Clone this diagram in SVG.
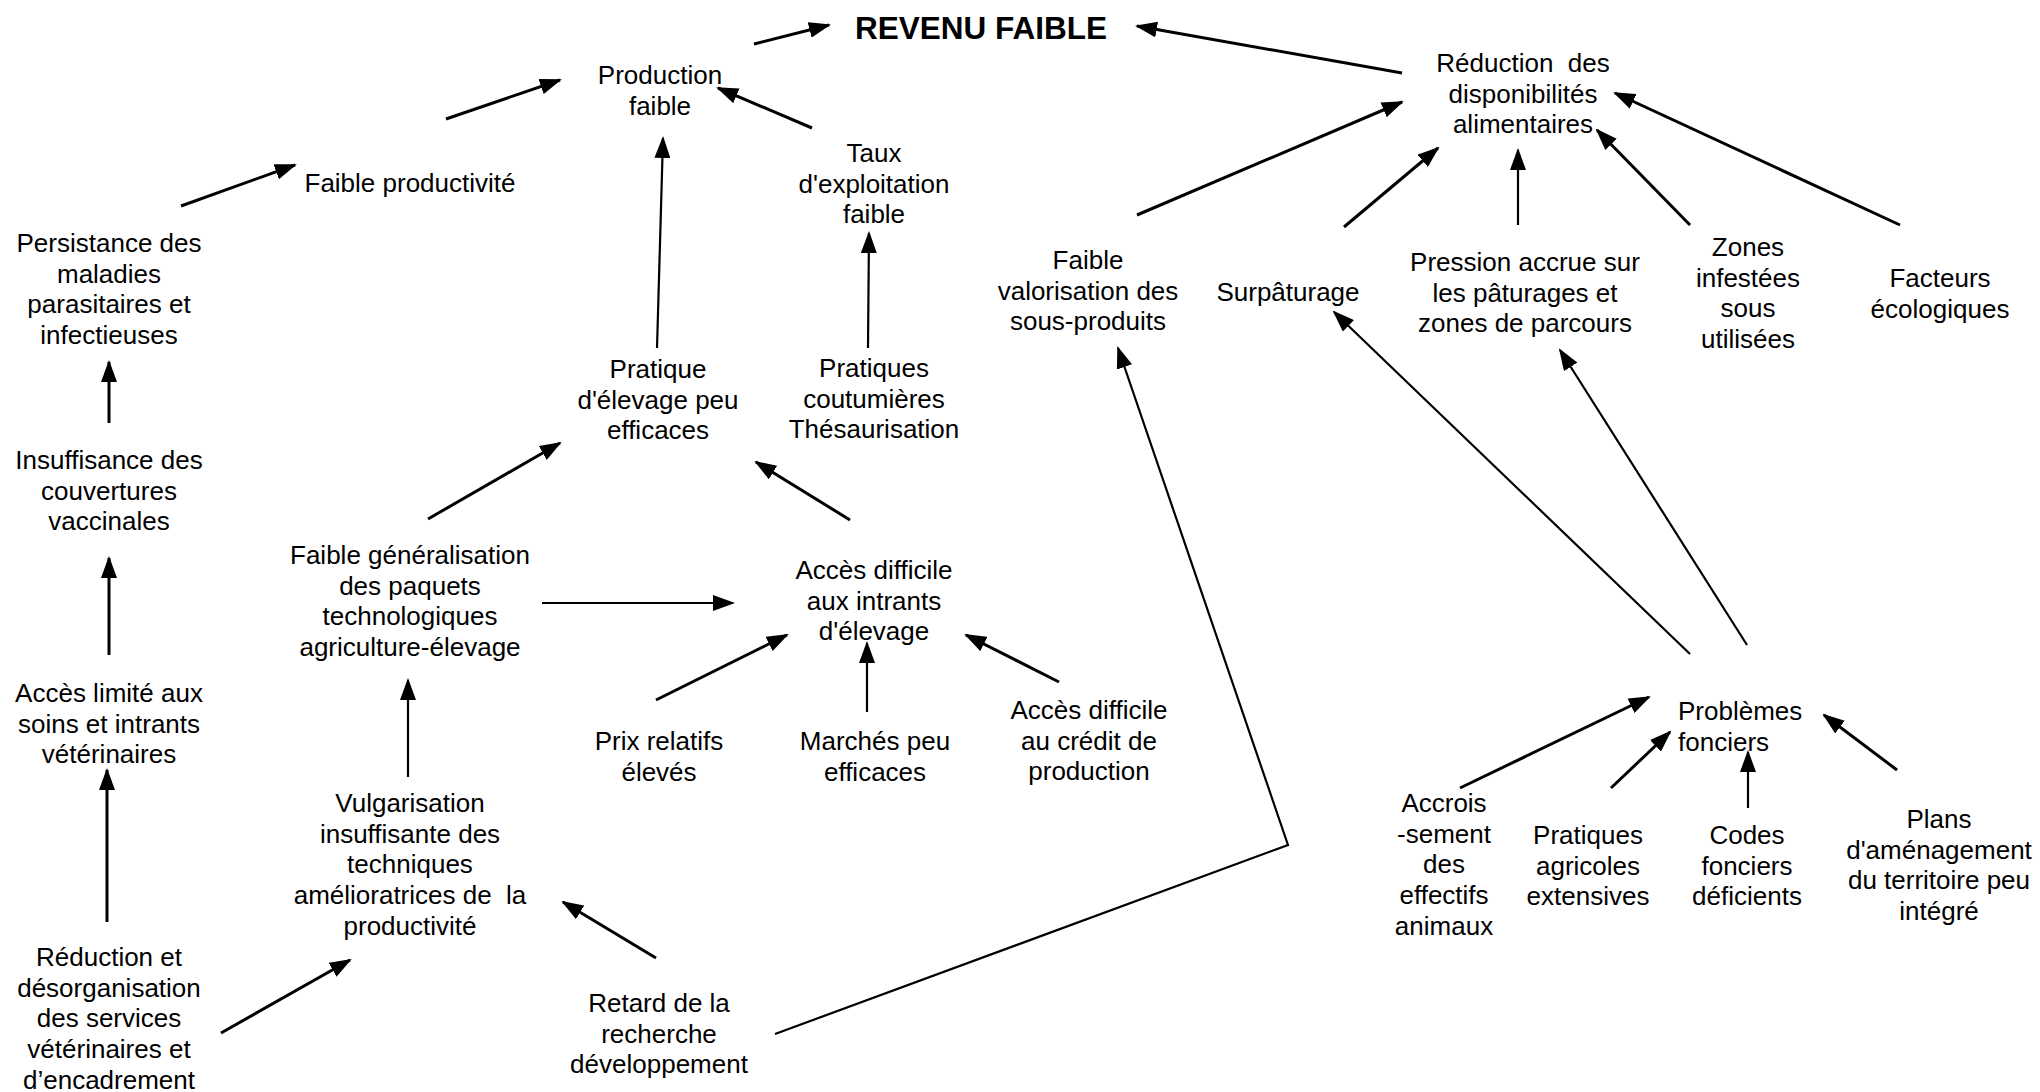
<svg xmlns="http://www.w3.org/2000/svg" width="2040" height="1092" viewBox="0 0 2040 1092">
<style>
.t{font-family:"Liberation Sans",Arial,sans-serif;font-size:26px;text-anchor:middle;fill:#000}
.b{font-weight:bold;font-size:31.5px}
.l{text-anchor:start}
.c line,.c polyline{stroke:#000;stroke-width:3;fill:none;marker-end:url(#ah)}
.c .th{stroke-width:2.2}
</style>
<defs>
<marker id="ah" markerWidth="22" markerHeight="16" refX="20" refY="8" orient="auto" markerUnits="userSpaceOnUse"><path d="M0,0 L22,8 L0,16 Z" fill="#000"/></marker>
</defs>
<rect width="2040" height="1092" fill="#fff"/>
<g class="c" id="connectors">
<line x1="754" y1="44" x2="829" y2="25"/>
<line x1="1402" y1="73" x2="1137" y2="26"/>
<line x1="446" y1="119" x2="560" y2="80"/>
<line x1="181" y1="206" x2="295" y2="165"/>
<line x1="109" y1="423" x2="109" y2="362"/>
<line x1="109" y1="655" x2="109" y2="558"/>
<line x1="107" y1="922" x2="107" y2="770"/>
<line x1="812" y1="128" x2="718" y2="88"/>
<line class="th" x1="657" y1="348" x2="663" y2="138"/>
<line class="th" x1="868" y1="348" x2="869" y2="233"/>
<line x1="428" y1="519" x2="560" y2="443"/>
<line x1="850" y1="520" x2="756" y2="462"/>
<line class="th" x1="542" y1="603" x2="733" y2="603"/>
<line x1="656" y1="700" x2="787" y2="635"/>
<line class="th" x1="867" y1="712" x2="867" y2="643"/>
<line x1="1059" y1="682" x2="966" y2="635"/>
<line class="th" x1="408" y1="777" x2="408" y2="680"/>
<line x1="221" y1="1033" x2="350" y2="960"/>
<line x1="656" y1="958" x2="563" y2="902"/>
<polyline class="th" points="775,1034 1288,845 1118,348"/>
<line x1="1137" y1="215" x2="1402" y2="102"/>
<line x1="1344" y1="227" x2="1438" y2="148"/>
<line class="th" x1="1518" y1="225" x2="1518" y2="150"/>
<line x1="1690" y1="225" x2="1597" y2="130"/>
<line x1="1900" y1="225" x2="1615" y2="93"/>
<line class="th" x1="1690" y1="654" x2="1334" y2="312"/>
<line class="th" x1="1747" y1="645" x2="1560" y2="350"/>
<line x1="1460" y1="788" x2="1649" y2="697"/>
<line x1="1611" y1="788" x2="1670" y2="732"/>
<line class="th" x1="1748" y1="808" x2="1748" y2="752"/>
<line x1="1897" y1="770" x2="1824" y2="715"/>
</g>
<g id="n-revenu"><text class="t b" x="981" y="39">REVENU FAIBLE</text></g>
<g id="n-production"><text class="t" x="660" y="84"><tspan x="660">Production</tspan><tspan x="660" dy="30.7">faible</tspan></text></g>
<g id="n-productivite"><text class="t" x="410" y="192">Faible productivité</text></g>
<g id="n-persistance"><text class="t" x="109" y="252"><tspan x="109">Persistance des</tspan><tspan x="109" dy="30.7">maladies</tspan><tspan x="109" dy="30.7">parasitaires et</tspan><tspan x="109" dy="30.7">infectieuses</tspan></text></g>
<g id="n-insuffisance"><text class="t" x="109" y="469"><tspan x="109">Insuffisance des</tspan><tspan x="109" dy="30.7">couvertures</tspan><tspan x="109" dy="30.7">vaccinales</tspan></text></g>
<g id="n-acces-limite"><text class="t" x="109" y="702"><tspan x="109">Accès limité aux</tspan><tspan x="109" dy="30.7">soins et intrants</tspan><tspan x="109" dy="30.7">vétérinaires</tspan></text></g>
<g id="n-reduction-services"><text class="t" x="109" y="966"><tspan x="109">Réduction et</tspan><tspan x="109" dy="30.7">désorganisation</tspan><tspan x="109" dy="30.7">des services</tspan><tspan x="109" dy="30.7">vétérinaires et</tspan><tspan x="109" dy="30.7">d’encadrement</tspan></text></g>
<g id="n-taux"><text class="t" x="874" y="162"><tspan x="874">Taux</tspan><tspan x="874" dy="30.7">d'exploitation</tspan><tspan x="874" dy="30.7">faible</tspan></text></g>
<g id="n-pratique-elevage"><text class="t" x="658" y="378"><tspan x="658">Pratique</tspan><tspan x="658" dy="30.7">d'élevage peu</tspan><tspan x="658" dy="30.7">efficaces</tspan></text></g>
<g id="n-coutumieres"><text class="t" x="874" y="377"><tspan x="874">Pratiques</tspan><tspan x="874" dy="30.7">coutumières</tspan><tspan x="874" dy="30.7">Thésaurisation</tspan></text></g>
<g id="n-generalisation"><text class="t" x="410" y="564"><tspan x="410">Faible généralisation</tspan><tspan x="410" dy="30.7">des paquets</tspan><tspan x="410" dy="30.7">technologiques</tspan><tspan x="410" dy="30.7">agriculture-élevage</tspan></text></g>
<g id="n-acces-intrants"><text class="t" x="874" y="579"><tspan x="874">Accès difficile</tspan><tspan x="874" dy="30.7">aux intrants</tspan><tspan x="874" dy="30.7">d'élevage</tspan></text></g>
<g id="n-prix"><text class="t" x="659" y="750"><tspan x="659">Prix relatifs</tspan><tspan x="659" dy="30.7">élevés</tspan></text></g>
<g id="n-marches"><text class="t" x="875" y="750"><tspan x="875">Marchés peu</tspan><tspan x="875" dy="30.7">efficaces</tspan></text></g>
<g id="n-credit"><text class="t" x="1089" y="719"><tspan x="1089">Accès difficile</tspan><tspan x="1089" dy="30.7">au crédit de</tspan><tspan x="1089" dy="30.7">production</tspan></text></g>
<g id="n-vulgarisation"><text class="t" x="410" y="812" xml:space="preserve"><tspan x="410">Vulgarisation</tspan><tspan x="410" dy="30.7">insuffisante des</tspan><tspan x="410" dy="30.7">techniques</tspan><tspan x="410" dy="30.7">amélioratrices de  la</tspan><tspan x="410" dy="30.7">productivité</tspan></text></g>
<g id="n-retard"><text class="t" x="659" y="1012"><tspan x="659">Retard de la</tspan><tspan x="659" dy="30.7">recherche</tspan><tspan x="659" dy="30.7">développement</tspan></text></g>
<g id="n-reduction-dispo"><text class="t" x="1523" y="72" xml:space="preserve"><tspan x="1523">Réduction  des</tspan><tspan x="1523" dy="30.7">disponibilités</tspan><tspan x="1523" dy="30.7">alimentaires</tspan></text></g>
<g id="n-valorisation"><text class="t" x="1088" y="269"><tspan x="1088">Faible</tspan><tspan x="1088" dy="30.7">valorisation des</tspan><tspan x="1088" dy="30.7">sous-produits</tspan></text></g>
<g id="n-surpaturage"><text class="t" x="1288" y="301">Surpâturage</text></g>
<g id="n-pression"><text class="t" x="1525" y="271"><tspan x="1525">Pression accrue sur</tspan><tspan x="1525" dy="30.7">les pâturages et</tspan><tspan x="1525" dy="30.7">zones de parcours</tspan></text></g>
<g id="n-zones"><text class="t" x="1748" y="256"><tspan x="1748">Zones</tspan><tspan x="1748" dy="30.7">infestées</tspan><tspan x="1748" dy="30.7">sous</tspan><tspan x="1748" dy="30.7">utilisées</tspan></text></g>
<g id="n-facteurs"><text class="t" x="1940" y="287"><tspan x="1940">Facteurs</tspan><tspan x="1940" dy="30.7">écologiques</tspan></text></g>
<g id="n-problemes"><text class="t l" x="1678" y="720"><tspan x="1678">Problèmes</tspan><tspan x="1678" dy="30.7">fonciers</tspan></text></g>
<g id="n-accroissement"><text class="t" x="1444" y="812"><tspan x="1444">Accrois</tspan><tspan x="1444" dy="30.7">-sement</tspan><tspan x="1444" dy="30.7">des</tspan><tspan x="1444" dy="30.7">effectifs</tspan><tspan x="1444" dy="30.7">animaux</tspan></text></g>
<g id="n-agricoles"><text class="t" x="1588" y="844"><tspan x="1588">Pratiques</tspan><tspan x="1588" dy="30.7">agricoles</tspan><tspan x="1588" dy="30.7">extensives</tspan></text></g>
<g id="n-codes"><text class="t" x="1747" y="844"><tspan x="1747">Codes</tspan><tspan x="1747" dy="30.7">fonciers</tspan><tspan x="1747" dy="30.7">déficients</tspan></text></g>
<g id="n-plans"><text class="t" x="1939" y="828"><tspan x="1939">Plans</tspan><tspan x="1939" dy="30.7">d'aménagement</tspan><tspan x="1939" dy="30.7">du territoire peu</tspan><tspan x="1939" dy="30.7">intégré</tspan></text></g>
</svg>
